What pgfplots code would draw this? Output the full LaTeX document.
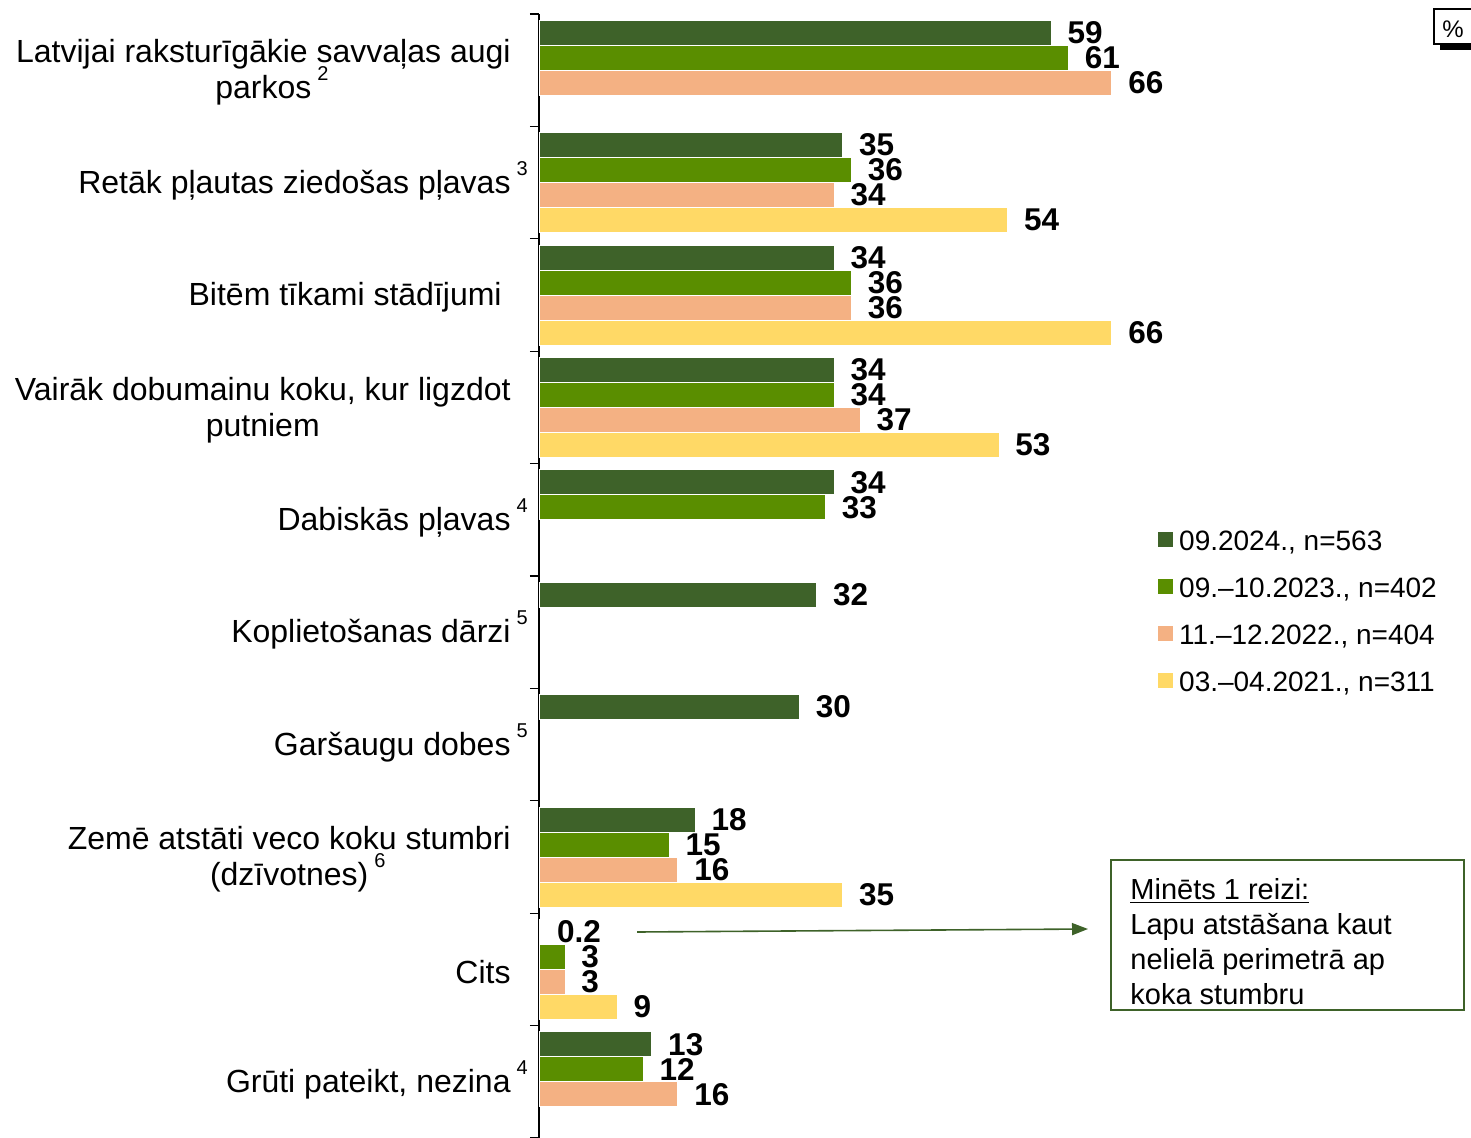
\documentclass[border=0pt]{standalone}
\usepackage{fontspec}
\setmainfont{Liberation Sans}
\usepackage{pgfplots}
\pgfplotsset{compat=1.18}
\usetikzlibrary{arrows.meta}
\definecolor{cA}{HTML}{3E6229}
\definecolor{cB}{HTML}{5A8E00}
\definecolor{cC}{HTML}{F4B183}
\definecolor{cD}{HTML}{FFD966}
\newcommand{\sups}[1]{\rlap{\smash{\hspace{3pt}\raisebox{9pt}{\fontsize{10}{10}\selectfont #1}}}}
\begin{document}
\begin{tikzpicture}
\useasboundingbox (0,0) rectangle (735.5pt,-569pt);
\begin{axis}[
  at={(269.5pt,-569pt)}, anchor=south west,
  scale only axis, width=434pt, height=562pt,
  xmin=0, xmax=100, ymin=-0.5, ymax=9.5,
  hide x axis, axis y line*=left,
  axis line style={black, line width=0.6pt},
  xbar, bar width=12.5pt,
  ytick={0,...,9},
  yticklabels={
    {Grūti pateikt, nezina\sups{4}},
    {Cits},
    {Zemē atstāti veco koku stumbri\\(dzīvotnes)\sups{6}},
    {Garšaugu dobes\sups{5}},
    {Koplietošanas dārzi\sups{5}},
    {Dabiskās pļavas\sups{4}},
    {Vairāk dobumainu koku, kur ligzdot\\putniem},
    {Bitēm tīkami stādījumi\hspace{4.5pt}},
    {Retāk pļautas ziedošas pļavas\sups{3}},
    {Latvijai raksturīgākie savvaļas augi\\parkos\sups{2}}
  },
  major tick length=0pt,
  minor ytick={-0.5,0.5,...,9.5},
  minor tick length=4.5pt,
  tick align=outside,
  minor tick style={black, line width=0.6pt},
  yticklabel style={font=\fontsize{16}{18}\selectfont, align=center, anchor=east, inner sep=0pt, xshift=-14pt, yshift=-1.2pt},
  nodes near coords={\pgfmathprintnumber[assume math mode=true]{\pgfplotspointmeta}},
  nodes near coords style={font=\fontsize{15.75}{16}\selectfont\bfseries, anchor=west, inner sep=0pt, xshift=8pt, text=black},
  clip=false,
  legend style={at={(0.7131,0.5409)}, anchor=north west, draw=none, fill=none,
    inner sep=0pt, outer sep=0pt, font=\fontsize{14}{14}\selectfont, row sep=10.5pt,
    nodes={inner sep=0pt, text height=10pt, text depth=3pt}},
  legend cell align=left,
  legend image code/.code={\fill[#1,draw=none] (0pt,-2.1pt) rectangle (7.4pt,5.3pt); \path (10.4pt,0pt);},
]
\addplot[fill=cA, draw=white, line width=0.4pt, bar shift=18.75pt] coordinates {
  (59,9) (35,8) (34,7) (34,6) (34,5) (32,4) (30,3) (18,2) (0.2,1) (13,0)};
\addplot[fill=cB, draw=white, line width=0.4pt, bar shift=6.25pt] coordinates {
  (61,9) (36,8) (36,7) (34,6) (33,5) (15,2) (3,1) (12,0)};
\addplot[fill=cC, draw=white, line width=0.4pt, bar shift=-6.25pt] coordinates {
  (66,9) (34,8) (36,7) (37,6) (16,2) (3,1) (16,0)};
\addplot[fill=cD, draw=white, line width=0.4pt, bar shift=-18.75pt] coordinates {
  (54,8) (66,7) (53,6) (35,2) (9,1)};
\legend{{09.2024., n=563}, {09.–10.2023., n=402}, {11.–12.2022., n=404}, {03.–04.2021., n=311}}
\end{axis}
\begin{scope}[x=0.5pt, y=-0.5pt]
  \draw[line width=0.6pt] (1434,9) rectangle (1490,44);
  \fill (1440,44) rectangle (1490,50);
  \node[inner sep=0pt] at (1453,29) {\fontsize{12}{12}\selectfont\%};
  \draw[cA, line width=1pt] (1111,860) rectangle (1464,1010);
  \node[anchor=base west, align=left, inner sep=0pt, font=\fontsize{14.5}{17.5}\selectfont] at (1130,1004)
    {\underline{Minēts 1 reizi:}\\Lapu atstāšana kaut\\nelielā perimetrā ap\\koka stumbru};
  \draw[cA, line width=0.8pt, -{Triangle[length=8pt,width=6pt]}] (637,932) -- (1088,929);
\end{scope}
\end{tikzpicture}
\end{document}
